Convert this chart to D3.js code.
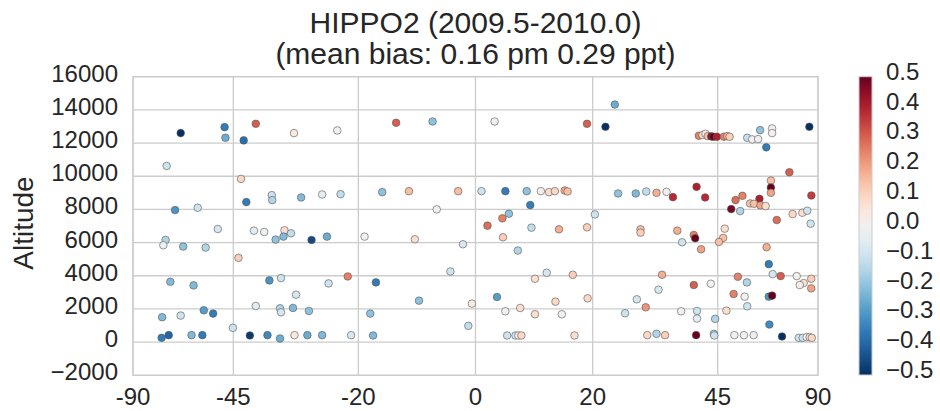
<!DOCTYPE html>
<html><head><meta charset="utf-8">
<script src="https://cdn.jsdelivr.net/npm/d3@7"></script>
<style>body{margin:0;background:#fff}text{font-family:"Liberation Sans",Arial,sans-serif;fill:#262626}</style>
</head><body><svg id="c" width="940" height="411"></svg>
<script>
const titleLines=["HIPPO2 (2009.5-2010.0)","(mean bias: 0.16 pm 0.29 ppt)"];
const yLabel="Altitude";
const xTicks=[-90,-45,-20,0,20,45,90];
const yTicks=[-2000,0,2000,4000,6000,8000,10000,12000,14000,16000];
const cTicks=[-0.5,-0.4,-0.3,-0.2,-0.1,0,0.1,0.2,0.3,0.4,0.5];
const lat=[-59.4,-47.1,-46.9,-42.6,-39.9,-32.0,-23.8,-64.4,-43.2,-42.0,-36.5,-36.4,-30.6,-26.6,-23.2,-61.3,-54.2,-48.8,-64.8,-65.7,-58.6,-52.0,-40.3,-38.1,-33.9,-32.6,-35.7,-34.1,-28.6,-25.7,-18.9,-43.8,-63.0,-55.4,-37.0,-34.6,-25.4,-21.9,-31.6,-66.2,-59.4,-52.5,-50.0,-39.9,-34.8,-34.6,-32.2,-29.1,-45.1,-66.4,-63.6,-56.0,-52.9,-41.2,-37.4,-34.8,-31.9,-29.4,-26.6,-21.3,
-13.4,-7.2,3.2,19.0,-15.8,-11.2,-2.9,1.0,5.0,8.6,11.0,12.4,13.4,15.1,15.6,-6.5,9.2,5.6,4.5,2.0,9.4,14.1,19.0,-10.2,4.6,-2.1,7.1,-4.2,-16.9,10.0,12.0,16.5,-9.5,-0.6,3.6,19.1,13.5,7.5,5.0,10.0,14.6,-17.9,-1.2,-17.4,5.3,6.7,7.2,7.7,16.8,
24.0,22.3,40.7,41.5,42.2,42.7,43.5,44.0,44.8,46.5,47.3,47.9,52.5,53.9,55.6,56.2,60.0,60.0,58.1,77.1,66.4,59.6,59.6,59.6,78.7,24.6,27.9,29.9,31.9,33.9,35.2,40.2,42.1,49.4,51.2,56.0,53.3,54.4,56.3,57.9,48.3,50.6,20.4,61.6,67.8,72.6,75.6,78.1,28.8,28.8,36.1,39.6,39.9,37.1,41.2,46.7,46.3,45.3,58.2,58.9,60.2,63.0,69.7,78.6,73.4,71.2,78.6,33.0,39.6,43.4,50.0,52.4,32.3,48.9,51.8,58.9,60.0,28.1,29.8,25.9,36.9,40.3,40.3,47.1,52.5,44.4,59.1,30.1,31.9,33.6,40.1,44.1,44.2,49.1,51.6,54.3,63.5,70.7,72.8,75.2,77.3,79.1];
const alt=[12600,12960,12320,12160,13160,12600,12760,10620,9840,8440,8860,8560,8720,8900,8920,7960,8100,6820,6160,5840,5760,5700,6720,6640,6740,6560,6180,6360,6160,6360,6360,5080,3640,3420,3720,3860,3540,3960,2860,1500,1600,1920,1720,2180,2040,1800,2060,1880,860,260,420,420,420,400,420,220,420,420,420,420,
13220,13300,13300,13160,9040,9100,9100,9100,9100,9100,9100,9040,9100,9140,9080,8000,8260,7740,7460,7020,6900,6800,6920,6200,6320,5900,5520,4260,3600,3820,4180,4060,2500,2320,2720,2640,2440,2060,1860,1680,1680,1720,980,400,400,400,400,400,400,
14320,12980,12440,12480,12560,12420,12400,12380,12380,12380,12420,12380,12320,12220,12240,12780,12880,12600,11740,12980,10240,9740,9320,9000,8840,8960,8960,9080,9000,9060,8740,9360,8720,8560,8820,8640,8360,8340,8240,8200,8020,7900,7700,7360,7720,7800,7920,7140,6800,6600,6720,6460,6260,6020,5600,6840,6280,6040,5720,4700,4100,3980,3980,3820,3560,3440,3240,4060,3440,3520,3940,3600,3160,2900,2740,2740,2800,2580,2100,1740,1860,1880,1420,1900,2160,1400,1060,420,500,420,420,500,400,420,420,420,340,260,260,300,300,260];
const bias=[-0.5,-0.35,-0.25,-0.38,0.3,0.05,0.0,-0.1,0.1,-0.35,-0.1,-0.15,-0.22,-0.05,-0.12,-0.3,-0.1,-0.08,-0.15,-0.03,-0.2,-0.15,-0.05,-0.02,0.08,-0.12,-0.2,-0.22,-0.45,-0.25,-0.02,0.12,-0.22,-0.22,-0.3,-0.1,-0.1,0.25,-0.08,-0.22,-0.1,-0.28,-0.35,-0.05,-0.15,-0.08,-0.22,-0.2,-0.1,-0.35,-0.4,-0.22,-0.35,-0.48,-0.32,-0.25,0.05,-0.25,-0.22,-0.08,
0.3,-0.2,0.0,0.3,-0.2,0.15,0.15,-0.1,-0.35,-0.2,0.0,0.08,0.1,0.2,0.15,0.0,-0.35,-0.2,0.25,0.28,-0.12,0.18,0.12,0.08,0.12,-0.08,-0.15,-0.1,-0.35,0.08,-0.08,0.12,-0.2,0.04,-0.28,0.1,0.1,0.08,0.0,0.08,0.0,-0.2,-0.12,-0.22,-0.1,-0.1,0.02,0.1,0.08,
-0.25,-0.5,0.25,0.1,0.0,0.15,0.45,0.5,0.4,0.25,0.18,0.12,-0.12,0.0,-0.02,-0.2,0.0,0.0,-0.35,-0.5,0.3,0.15,0.5,0.2,0.35,-0.2,-0.22,-0.12,0.18,0.0,0.38,0.4,0.38,0.28,0.25,0.4,0.15,0.15,0.2,0.08,0.48,-0.15,-0.1,0.28,0.1,0.08,-0.1,-0.1,0.15,0.12,0.18,0.25,0.5,-0.1,0.2,0.08,0.15,0.15,0.18,-0.35,-0.08,0.3,0.0,0.12,0.08,0.02,0.2,0.18,0.3,0.0,0.25,-0.15,-0.08,0.25,0.0,-0.3,0.5,-0.08,0.22,-0.1,0.0,-0.1,-0.05,0.08,-0.1,-0.15,-0.32,0.1,-0.15,0.12,0.5,-0.15,-0.1,0.0,0.0,-0.03,-0.5,-0.1,-0.1,0.0,0.08,0.1];

const svg=d3.select("#c");
const L=133,R=818,T=76.7,B=375.3;
const xs=d3.scaleLinear().domain([-1,1]).range([L,R]);
const x=d=>xs(Math.sin(d*Math.PI/180));
const y=d3.scaleLinear().domain([-2000,16000]).range([B,T]);
const col=d3.scaleSequential(t=>d3.interpolateRdBu(1-t)).domain([-0.5,0.5]);
const grid="#cccccc";

svg.append("rect").attr("width",940).attr("height",411).attr("fill","#fff");
const g=svg.append("g");
g.selectAll(".hg").data(yTicks).join("line").attr("x1",L).attr("x2",R).attr("y1",d=>y(d)).attr("y2",d=>y(d)).attr("stroke",grid).attr("stroke-width",1.3);
g.selectAll(".vg").data(xTicks).join("line").attr("x1",d=>x(d)).attr("x2",d=>x(d)).attr("y1",T).attr("y2",B).attr("stroke",grid).attr("stroke-width",1.3);
g.append("rect").attr("x",L).attr("y",T).attr("width",R-L).attr("height",B-T).attr("fill","none").attr("stroke",grid).attr("stroke-width",1.3);

const pts=lat.map((d,i)=>({lat:d,alt:alt[i],b:bias[i]}));
g.selectAll("circle").data(pts).join("circle").attr("cx",d=>x(d.lat)).attr("cy",d=>y(d.alt)).attr("r",3.8)
 .attr("fill",d=>col(d.b)).attr("stroke","#555").attr("stroke-width",0.6);

const fmtY=d=>(d<0?"\u2212":"")+Math.abs(d);
g.selectAll(".yl").data(yTicks).join("text").attr("x",118).attr("y",d=>y(d)).attr("dy",5).attr("text-anchor","end").attr("font-size",24).text(fmtY);
g.selectAll(".xl").data(xTicks).join("text").attr("x",d=>x(d)).attr("y",405).attr("text-anchor","middle").attr("font-size",24).text(d=>String(d));
svg.append("text").attr("transform","translate(33,223) rotate(-90)").attr("text-anchor","middle").attr("font-size",28).text(yLabel);
svg.selectAll(".tt").data(titleLines).join("text").attr("x",475.5).attr("y",(d,i)=>33+i*31).attr("text-anchor","middle").attr("font-size",30).text(d=>d);

// colorbar
const cb=d3.scaleLinear().domain([-0.5,0.5]).range([B-0.3,T]);
const defs=svg.append("defs");
const lg=defs.append("linearGradient").attr("id","cg").attr("x1",0).attr("x2",0).attr("y1",1).attr("y2",0);
d3.range(0,1.0001,0.05).forEach(t=>lg.append("stop").attr("offset",t).attr("stop-color",col(-0.5+t)));
svg.append("rect").attr("x",859).attr("y",T).attr("width",13).attr("height",B-T-0.3).attr("fill","url(#cg)").attr("stroke","#cccccc").attr("stroke-width",1);
svg.selectAll(".cl").data(cTicks).join("text").attr("x",886).attr("y",d=>cb(d)).attr("dy",3).attr("font-size",24)
 .text(d=>(d<0?"\u2212":"")+Math.abs(d).toFixed(1));
</script></body></html>
